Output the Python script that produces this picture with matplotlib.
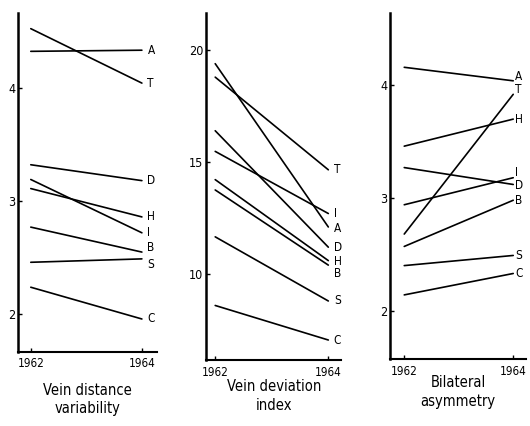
import matplotlib
matplotlib.use("Agg")
import matplotlib.pyplot as plt

plt.rcParams['font.family'] = ['DejaVu Sans']
plt.rcParams['font.stretch'] = 'condensed'

years = [1962, 1964]
groups = ["A", "T", "D", "H", "I", "B", "S", "C"]

# values, (1962, 1964) per group
vein_distance = {
    "A": (4.32, 4.33), "T": (4.52, 4.04), "D": (3.32, 3.18), "H": (3.11, 2.86),
    "I": (3.19, 2.72), "B": (2.77, 2.55), "S": (2.46, 2.49), "C": (2.24, 1.96),
}
vein_deviation = {
    "A": (19.38, 12.1), "T": (18.78, 14.65), "D": (16.39, 11.2), "H": (14.21, 10.6),
    "I": (15.47, 12.7), "B": (13.75, 10.4), "S": (11.66, 8.8), "C": (8.6, 7.06),
}
bilateral = {
    "A": (4.16, 4.04), "T": (2.68, 3.92), "D": (3.27, 3.12), "H": (3.46, 3.70),
    "I": (2.94, 3.18), "B": (2.57, 2.98), "S": (2.40, 2.49), "C": (2.14, 2.33),
}

titles = ["Vein distance\nvariability", "Vein deviation\nindex", "Bilateral\nasymmetry"]
yticks = [[2, 3, 4], [10, 15, 20], [2, 3, 4]]

# label nudges in points (dx, dy) so letters do not collide
nudges = [
    {"B": (0, 3), "S": (0, -4)},
    {"B": (0, -6.2), "H": (0, -0.3), "A": (0, -1)},
    {"A": (0, 2.8), "T": (0, 3.3), "I": (0, 3.6), "D": (0, -0.5)},
]
label_dx = [4, 4, 1.5]

fig = plt.figure(figsize=(5.3, 4.26), dpi=100)
rects = [
    [0.034, 0.174, 0.262, 0.796],
    [0.389, 0.155, 0.255, 0.815],
    [0.736, 0.157, 0.257, 0.812],
]
xlims = [(1961.77, 1964.27), (1961.84, 1964.23), (1961.74, 1964.24)]
ylims = [(1.67, 4.66), (6.17, 21.65), (1.57, 4.64)]
title_y = [-0.091, -0.056, -0.047]

for k, data in enumerate([vein_distance, vein_deviation, bilateral]):
    ax = fig.add_axes(rects[k])
    for g in groups:
        v = data[g]
        ax.plot(years, v, color="black", linewidth=1.2, solid_capstyle="round")
        dx, dy = nudges[k].get(g, (0, 0))
        ax.annotate(g, (years[1], v[1]), xytext=(label_dx[k] + dx, dy),
                    textcoords="offset points", ha="left", va="center",
                    fontsize=8.5)
    ax.set_xlim(*xlims[k])
    ax.set_ylim(*ylims[k])
    ax.set_xticks(years)
    ax.set_yticks(yticks[k])
    ax.tick_params(direction="in", length=3, width=1, labelsize=8.5, pad=4)
    ax.tick_params(axis="y", labelsize=9, pad=2)
    for side in ["top", "right"]:
        ax.spines[side].set_visible(False)
    ax.spines["left"].set_linewidth(1.8)
    ax.spines["bottom"].set_linewidth(1.5)
    ax.text(0.5, title_y[k], titles[k], transform=ax.transAxes, ha="center",
            va="top", fontsize=10.5, linespacing=1.3)

fig.savefig("out.png", dpi=100)
